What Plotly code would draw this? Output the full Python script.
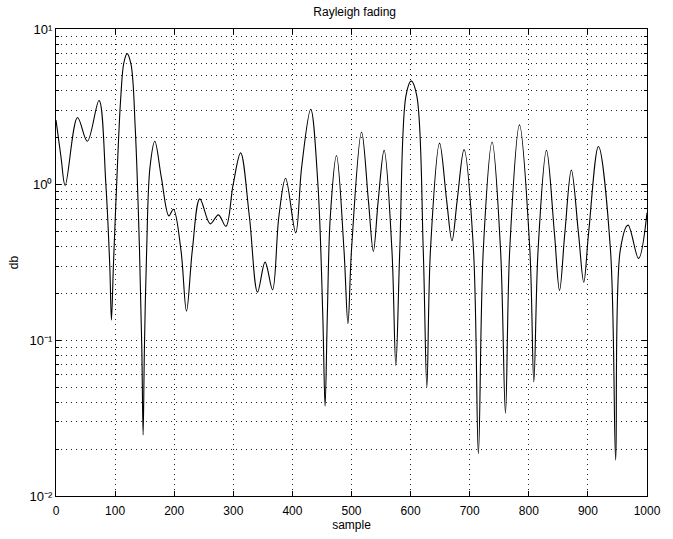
import plotly.graph_objects as go

# sample index and |h| (log-scale y)
sample = [0, 8.6, 15.5, 36.4, 53, 72.8, 84.4, 91, 93.8, 97.1, 102.6, 109.3,
          114.8, 120.3, 127, 134.1, 141.3, 145.2, 147.4, 149.6, 153.4, 159,
          167.2, 178.3, 191, 198.7, 211.4, 220.8, 230.7, 243.4, 261, 274.8,
          287.5, 299.7, 312.4, 327.3, 341, 353.8, 366.4, 377, 388.5, 405.6,
          415.6, 431, 443.2, 451.4, 455.3, 459.1, 464.1, 474.6, 487.3, 494,
          500, 517, 528.6, 537, 545.2, 555.2, 568.4, 575, 581.7, 592.2, 601,
          610.4, 621.4, 627.5, 633.6, 649, 661, 670, 678.8, 690.4, 706.4,
          714.7, 723, 737.9, 752.2, 760.5, 767.7, 784.2, 801.8, 808.5, 815.7,
          829.9, 843.3, 852, 861, 872, 884, 893, 901.2, 917.8, 938.2, 947,
          954.8, 968, 985.7, 1000]
amplitude = [2.6, 1.49, 0.99, 2.7, 1.9, 3.47, 1.0, 0.3, 0.135, 0.3, 1.0, 3.5,
             6.07, 6.95, 5.9, 2.3, 0.38, 0.089, 0.0247, 0.089, 0.38, 1.29,
             1.9, 1.11, 0.63, 0.695, 0.38, 0.154, 0.38, 0.81, 0.56, 0.64,
             0.54, 1.0, 1.6, 0.62, 0.204, 0.318, 0.211, 0.62, 1.1, 0.49,
             1.29, 3.05, 1.0, 0.145, 0.0377, 0.145, 0.62, 1.54, 0.38, 0.128,
             0.38, 2.18, 0.79, 0.373, 0.79, 1.66, 0.38, 0.069, 0.38, 3.73, 4.64,
             3.73, 0.38, 0.05, 0.38, 1.85, 0.79, 0.436, 0.79, 1.68, 0.38,
             0.0187, 0.38, 1.88, 0.38, 0.034, 0.38, 2.42, 0.38, 0.054, 0.38,
             1.66, 0.49, 0.209, 0.49, 1.24, 0.49, 0.236, 0.49, 1.76, 0.38, 0.017,
             0.38, 0.55, 0.336, 0.66]

x_ticks = [0, 100, 200, 300, 400, 500, 600, 700, 800, 900, 1000]
y_ticks = [0.01, 0.1, 1, 10]
y_tick_text = ["10\u207b\u00b2", "10\u207b\u00b9", "10\u2070", "10\u00b9"]
y_minor = [m * 10 ** e for e in (-2, -1, 0) for m in range(2, 10)]

font = "Liberation Sans, Arial, Helvetica, sans-serif"
gridc = "#222222"
griddash = "1px,4px"

fig = go.Figure()
fig.add_trace(go.Scatter(x=sample, y=amplitude, mode="lines",
                         line=dict(color="black", width=1.1, shape="spline", smoothing=1.0),
                         showlegend=False, hoverinfo="skip"))

fig.update_layout(
    width=673, height=539,
    margin=dict(l=56, r=17, t=29, b=35),
    paper_bgcolor="white", plot_bgcolor="white",
    font=dict(family=font, size=12, color="black"),
    title=dict(text="Rayleigh fading", x=0.527, xanchor="center", y=0.985, yanchor="top",
               font=dict(family=font, size=12, color="black")),
)
fig.update_xaxes(
    range=[0, 1000], tickvals=x_ticks, ticktext=[str(v) for v in x_ticks],
    showline=True, linecolor="black", linewidth=1, mirror="ticks",
    ticks="inside", ticklen=5, tickcolor="black", ticklabelstandoff=4,
    showgrid=True, gridcolor=gridc, griddash=griddash, gridwidth=1,
    zeroline=False,
    title=dict(text="sample", standoff=0, font=dict(family=font, size=12)),
    tickfont=dict(family=font, size=12),
)
fig.update_yaxes(
    type="log", range=[-2, 1], tickvals=y_ticks, ticktext=y_tick_text,
    showline=True, linecolor="black", linewidth=1, mirror="ticks",
    ticks="inside", ticklen=5, tickcolor="black",
    showgrid=True, gridcolor=gridc, griddash=griddash, gridwidth=1,
    minor=dict(ticks="inside", ticklen=3, tickcolor="black", showgrid=True,
               gridcolor=gridc, griddash=griddash, gridwidth=1,
               tickvals=y_minor),
    zeroline=False,
    title=dict(text="db", standoff=8, font=dict(family=font, size=12)),
    tickfont=dict(family=font, size=13),
)

fig.write_html("out.html")
